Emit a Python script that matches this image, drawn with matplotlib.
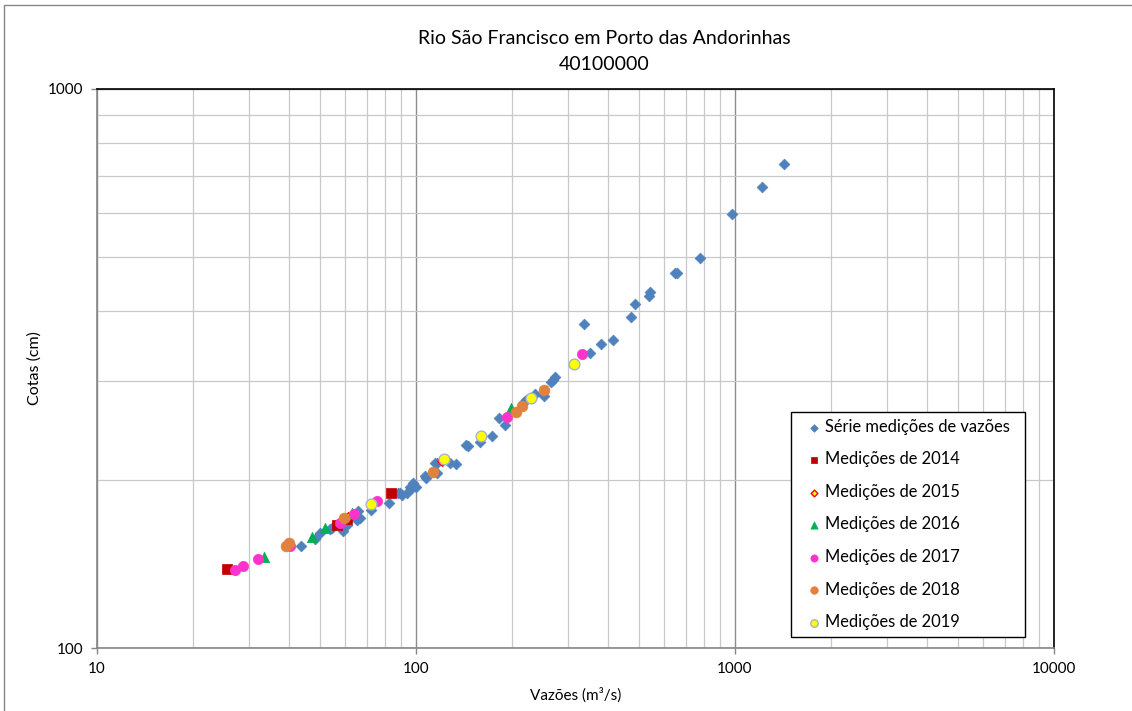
import matplotlib
matplotlib.use("Agg")
import matplotlib.pyplot as plt
from matplotlib.ticker import LogLocator, NullFormatter, FixedLocator, FixedFormatter
from matplotlib.patches import Rectangle

plt.rcParams['font.family'] = ['Lato', 'DejaVu Sans']

# ---- data ----
serie_q = [43.5, 48.3, 50.0, 53.8, 54.4, 58.9, 60.7, 65.2, 65.8, 66.9, 65.5, 72.3,
           82.3, 88.0, 89.1, 90.3, 93.5, 95.9, 96.9, 98.1, 99.7, 106.7, 107.4,
           114.7, 116.0, 116.0, 127.8, 133.5, 143.0, 145.9, 158.8, 173.5, 182.5,
           190.1, 218.0, 221.2, 236.0, 252.0, 264.8, 269.4, 272.9, 337.1, 351.2,
           380.2, 415.5, 472.0, 484.8, 538.6, 541.4, 648.5, 658.0, 778.6, 978.6,
           1215.0, 1424.0]
serie_h = [152.2, 156.7, 160.8, 163.0, 164.0, 162.1, 166.0, 169.4, 175.8, 170.6, 169.9, 176.6,
           181.5, 189.0, 189.6, 188.0, 189.6, 194.3, 193.1, 197.0, 194.3, 203.1, 201.7,
           214.6, 205.6, 214.0, 214.6, 213.7, 231.0, 229.8, 234.0, 239.4, 257.6,
           250.6, 275.0, 277.7, 284.3, 282.6, 299.0, 301.5, 305.2, 379.4, 337.5,
           349.9, 355.6, 391.5, 412.5, 426.8, 432.8, 468.0, 469.0, 497.9, 597.5,
           666.9, 733.0]

q2014 = [25.5, 56.5, 60.6, 83.3]
h2014 = [138.3, 166.3, 169.9, 189.1]

q2015 = [61.3, 120.4]
h2015 = [171.8, 216.3]

q2016 = [33.4, 47.1, 51.9, 62.9, 198.1]
h2016 = [145.6, 158.2, 164.2, 174.6, 269.1]

q2017 = [27.1, 28.7, 32.0, 40.2, 57.8, 64.0, 75.6, 192.4, 330.6]
h2017 = [137.9, 140.2, 144.1, 152.0, 167.6, 173.7, 183.0, 259.3, 335.7]

q2018 = [39.1, 40.0, 59.5, 112.7, 205.8, 214.5, 251.9]
h2018 = [152.2, 154.3, 171.0, 206.7, 264.7, 271.3, 289.3]

q2019 = [72.4, 122.4, 159.9, 228.8, 312.9]
h2019 = [181.0, 217.8, 239.4, 279.7, 321.7]

labels = ["Série medições de vazões", "Medições de 2014", "Medições de 2015",
          "Medições de 2016", "Medições de 2017", "Medições de 2018", "Medições de 2019"]
title_lines = ["Rio São Francisco em Porto das Andorinhas", "40100000"]
x_ticks = [10, 100, 1000, 10000]
y_ticks = [100, 1000]

# ---- figure ----
fig = plt.figure(figsize=(11.32, 7.11), dpi=100)
ax = fig.add_axes([97/1132, 1-648/711, (1054-97)/1132, (648-89)/711])

ax.set_xscale('log')
ax.set_yscale('log')
ax.set_xlim(10, 10000)
ax.set_ylim(100, 1000)

ax.xaxis.set_major_locator(FixedLocator(x_ticks))
ax.xaxis.set_major_formatter(FixedFormatter([str(v) for v in x_ticks]))
ax.yaxis.set_major_locator(FixedLocator(y_ticks))
ax.yaxis.set_major_formatter(FixedFormatter([str(v) for v in y_ticks]))
ax.xaxis.set_minor_locator(LogLocator(base=10, subs=range(2, 10)))
ax.yaxis.set_minor_locator(LogLocator(base=10, subs=range(2, 10)))
ax.xaxis.set_minor_formatter(NullFormatter())
ax.yaxis.set_minor_formatter(NullFormatter())

ax.grid(which='major', color='#8c8c8c', linewidth=1.0)
ax.grid(which='minor', color='#c8c8c8', linewidth=0.9)
ax.set_axisbelow(True)

ax.tick_params(which='major', direction='out', length=4, color='#868686', width=1,
               labelsize=11, labelcolor='black', pad=6)
ax.tick_params(which='minor', length=0)
for s in ['left', 'bottom']:
    ax.spines[s].set_color('#868686')
    ax.spines[s].set_linewidth(1.2)
for s in ['top', 'right']:
    ax.spines[s].set_color('black')
    ax.spines[s].set_linewidth(1.2)

h0 = ax.scatter(serie_q, serie_h, marker='D', s=30, color='#4F81BD', edgecolors='#4F81BD',
                linewidths=0.5, zorder=3, label=labels[0])
h1 = ax.scatter(q2014, h2014, marker='s', s=48, color='#C00000', edgecolors='#C00000',
                linewidths=0.5, zorder=4, label=labels[1])
h2 = ax.scatter(q2015, h2015, marker='D', s=24, color='#FFFF00', edgecolors='#FF0000',
                linewidths=1.0, zorder=4, label=labels[2])
h3 = ax.scatter(q2016, h2016, marker='^', s=55, color='#00B050', edgecolors='#00B050',
                linewidths=0.5, zorder=4, label=labels[3])
h4 = ax.scatter(q2017, h2017, marker='o', s=55, color='#FF33CC', edgecolors='#FF33CC',
                linewidths=0.5, zorder=4, label=labels[4])
h5 = ax.scatter(q2018, h2018, marker='o', s=60, color='#E0823D', edgecolors='#E0823D',
                linewidths=0.5, zorder=4, label=labels[5])
h6 = ax.scatter(q2019, h2019, marker='o', s=60, color='#FFFF00', edgecolors='#A6B4C8',
                linewidths=1.0, zorder=5, label=labels[6])

ax.set_xlabel("Vazões (m³/s)", fontsize=11, labelpad=8)
ax.set_ylabel("Cotas (cm)", fontsize=11.5, labelpad=4)

fig.text(604/1132, 1-38/711, title_lines[0], ha='center', va='center', fontsize=14)
fig.text(604/1132, 1-64/711, title_lines[1], ha='center', va='center', fontsize=14)

leg = fig.legend(handles=[h0, h1, h2, h3, h4, h5, h6], labels=labels,
                 loc='lower left', bbox_to_anchor=(791/1132, 1-637/711, 234/1132, 227/711),
                 mode='expand', fontsize=11.9, frameon=True, fancybox=False,
                 framealpha=1, edgecolor='black', labelspacing=1.0, handletextpad=-0.35,
                 handlelength=2.0, borderpad=0.42, markerscale=0.7, borderaxespad=0)
leg.get_frame().set_linewidth(1.0)

# outer chart border
fig.patches.append(Rectangle((4/1132, -0.01), 1.1, 1-5/711 + 0.01, transform=fig.transFigure,
                             fill=False, edgecolor='#868686', linewidth=1.0))

fig.savefig("out.png", dpi=100)
